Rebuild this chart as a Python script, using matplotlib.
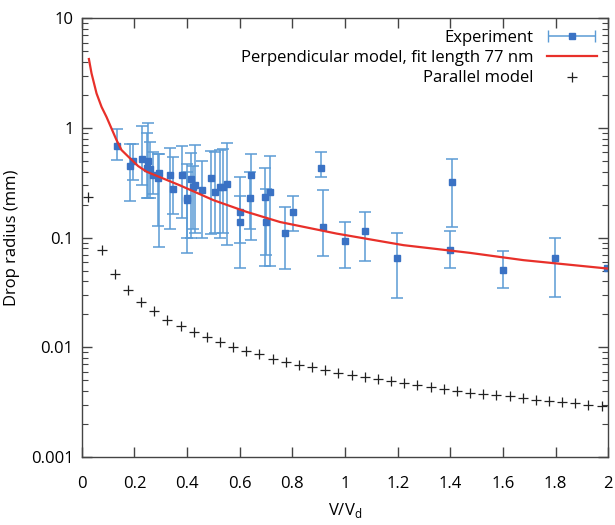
import numpy as np
import matplotlib
matplotlib.use('Agg')
from matplotlib import pyplot as plt
from matplotlib.legend_handler import HandlerErrorbar
from matplotlib.container import ErrorbarContainer
from matplotlib.ticker import LogLocator, NullFormatter, FixedLocator

plt.rcParams['font.family'] = ['Open Sans', 'DejaVu Sans']

# experiment: V/Vd, radius (mm), upper and lower end of error bar
exp_v = [0.134, 0.185, 0.195, 0.227, 0.252, 0.246, 0.259, 0.271, 0.292, 0.288,
         0.335, 0.345, 0.381, 0.398, 0.40, 0.416, 0.421, 0.43, 0.455, 0.49,
         0.507, 0.525, 0.537, 0.552, 0.602, 0.602, 0.643, 0.639, 0.696, 0.70,
         0.714, 0.771, 0.802, 0.91, 0.917, 1.0, 1.076, 1.199, 1.406, 1.399,
         1.6, 1.798, 1.997]
exp_r = [0.686, 0.45, 0.50, 0.52, 0.50, 0.43, 0.42, 0.37, 0.39, 0.35,
         0.37, 0.28, 0.37, 0.23, 0.22, 0.34, 0.29, 0.30, 0.27, 0.35,
         0.26, 0.29, 0.29, 0.31, 0.17, 0.139, 0.37, 0.23, 0.235, 0.14,
         0.26, 0.11, 0.17, 0.435, 0.125, 0.093, 0.116, 0.065, 0.32, 0.078,
         0.051, 0.065, 0.053]
exp_hi = [0.98, 0.71, 0.71, 1.05, 1.12, 0.90, 0.75, 0.60, 0.58, 0.58,
          0.66, 0.54, 0.68, 0.47, 0.40, 0.59, 0.45, 0.70, 0.50, 0.615,
          0.60, 0.63, 0.64, 0.73, 0.354, 0.24, 0.58, 0.40, 0.43, 0.28,
          0.56, 0.19, 0.24, 0.60, 0.27, 0.14, 0.17, 0.11, 0.52, 0.115,
          0.076, 0.099, 0.053]
exp_lo = [0.51, 0.215, 0.337, 0.30, 0.23, 0.23, 0.23, 0.25, 0.083, 0.127,
          0.119, 0.164, 0.15, 0.073, 0.10, 0.10, 0.12, 0.11, 0.10, 0.107,
          0.11, 0.10, 0.11, 0.085, 0.053, 0.09, 0.096, 0.12, 0.055, 0.07,
          0.055, 0.052, 0.115, 0.36, 0.068, 0.053, 0.061, 0.028, 0.125, 0.053,
          0.035, 0.029, 0.053]

# perpendicular model curve
perp_v = [0.027, 0.037, 0.056, 0.075, 0.094, 0.132, 0.151, 0.183, 0.214, 0.246,
          0.373, 0.5, 0.626, 0.753, 0.968, 1.222, 1.475, 1.678, 1.995]
perp_r = [4.26, 3.15, 2.07, 1.56, 1.26, 0.776, 0.63, 0.53, 0.45, 0.40,
          0.30, 0.22, 0.172, 0.139, 0.109, 0.0855, 0.0727, 0.0624, 0.0524]

# parallel model
par_v = [0.025, 0.075, 0.125, 0.175, 0.225, 0.275, 0.325, 0.375, 0.425, 0.475,
         0.525, 0.575, 0.625, 0.675, 0.725, 0.775, 0.825, 0.875, 0.925, 0.975,
         1.025, 1.075, 1.125, 1.175, 1.225, 1.275, 1.325, 1.375, 1.425, 1.475,
         1.525, 1.575, 1.625, 1.675, 1.725, 1.775, 1.825, 1.875, 1.925, 1.975]
par_r = [0.233, 0.078, 0.0465, 0.0332, 0.026, 0.0213, 0.0179, 0.0156, 0.0137, 0.0123,
         0.0111, 0.0101, 0.0093, 0.00865, 0.0079, 0.00736, 0.00697, 0.00658, 0.00622, 0.00589,
         0.00565, 0.00537, 0.00512, 0.00491, 0.00474, 0.00451, 0.00435, 0.00421, 0.0040, 0.00387,
         0.00376, 0.00366, 0.00358, 0.00345, 0.00334, 0.00324, 0.00318, 0.00309, 0.00301, 0.00294]

err_col = '#5b9bd5'
mark_col = '#3a72c4'

fig = plt.figure(figsize=(6.15, 5.25), dpi=100)
ax = fig.add_axes([0.133, 0.1295, 0.856, 0.8355])

yerr = [np.array(exp_r) - np.array(exp_lo), np.array(exp_hi) - np.array(exp_r)]
ax.errorbar(exp_v, exp_r, yerr=yerr, fmt='s', color=mark_col, ecolor=err_col,
            markersize=5, elinewidth=1.1, capsize=4, capthick=1.1, zorder=2)
ax.plot(perp_v, perp_r, color='#e8302a', lw=1.6, zorder=3,
        label='Perpendicular model, fit length 77 nm')
ax.plot(par_v, par_r, '+', color='#222222', markersize=7, mew=0.9,
        label='Parallel model')

# legend proxy with horizontal bar like the original
proxy = ax.errorbar([np.nan], [np.nan], xerr=[1], fmt='s', color=mark_col,
                    ecolor=err_col, markersize=4, elinewidth=1.1, capsize=4,
                    label='Experiment')

ax.set_yscale('log')
ax.set_xlim(0, 2)
ax.set_ylim(0.001, 10)
ax.xaxis.set_major_locator(FixedLocator(np.arange(0, 2.01, 0.2)))
ax.set_xticklabels(['0', '0.2', '0.4', '0.6', '0.8', '1', '1.2', '1.4', '1.6', '1.8', '2'])
ax.yaxis.set_major_locator(FixedLocator([0.001, 0.01, 0.1, 1, 10]))
ax.set_yticklabels(['0.001', '0.01', '0.1', '1', '10'])
ax.yaxis.set_minor_locator(LogLocator(base=10, subs=np.arange(2, 10)))
ax.yaxis.set_minor_formatter(NullFormatter())

ax.tick_params(which='both', direction='in', top=True, right=True,
               labelsize=12, color='#444444')
ax.tick_params(which='major', length=7, width=1)
ax.tick_params(which='minor', length=4, width=0.8)
ax.tick_params(axis='x', pad=14)
ax.tick_params(axis='y', pad=6)
for s in ax.spines.values():
    s.set_color('#444444')
    s.set_linewidth(1)

ax.set_xlabel('V/V$_\\mathregular{d}$', fontsize=12, labelpad=6)
ax.set_ylabel('Drop radius (mm)', fontsize=12, labelpad=8)

handles, labels = ax.get_legend_handles_labels()
order = [labels.index('Experiment'),
         labels.index('Perpendicular model, fit length 77 nm'),
         labels.index('Parallel model')]
ax.legend([handles[i] for i in order], [labels[i] for i in order],
          loc='upper right', frameon=False, markerfirst=False, fontsize=12,
          handlelength=3.0, borderaxespad=0.3, labelspacing=0.25,
          handler_map={ErrorbarContainer: HandlerErrorbar(xerr_size=1.4)})

plt.savefig('out.png', dpi=100)
